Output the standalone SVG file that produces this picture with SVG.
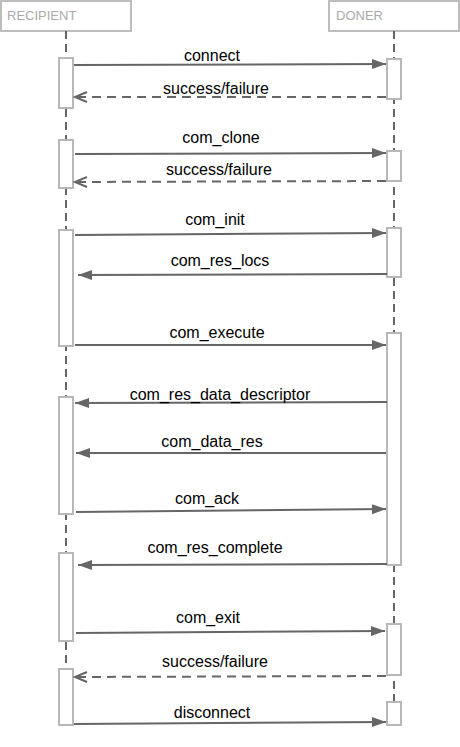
<svg xmlns="http://www.w3.org/2000/svg" width="460" height="747" viewBox="0 0 460 747">
<style>
.hdr{fill:#fff;stroke:#bdbdbd;stroke-width:2}
.htxt{font-family:"Liberation Sans",Arial,sans-serif;font-size:13px;fill:#aaaaaa}
.life{stroke:#666;stroke-width:2;stroke-dasharray:8,5;fill:none}
.act{fill:#fff;stroke:#b8b8b8;stroke-width:2}
.msg{stroke:#666;stroke-width:2;fill:none;marker-end:url(#filled)}
.ret{stroke:#666;stroke-width:2;fill:none;stroke-dasharray:9,6;marker-end:url(#open)}
.lbl{font-family:"Liberation Sans",Arial,sans-serif;font-size:16px;fill:#000;text-anchor:middle}
</style>
<defs>
<marker id="filled" markerUnits="userSpaceOnUse" markerWidth="15" markerHeight="11" refX="14" refY="5" orient="auto" overflow="visible">
<path d="M0,0 L14,5 L0,10 z" fill="#666" stroke="none"/>
</marker>
<marker id="open" markerUnits="userSpaceOnUse" markerWidth="14" markerHeight="12" refX="12" refY="5" orient="auto" overflow="visible">
<path d="M0,0 L12,5 L0,10" fill="none" stroke="#666" stroke-width="2" stroke-dasharray="none"/>
</marker>
</defs>

<g id="recipient">
<rect class="hdr" x="1" y="1" width="130" height="30"/>
<text class="htxt" x="7" y="20">RECIPIENT</text>
<line class="life" x1="66" y1="31" x2="66" y2="725"/>
<rect class="act" x="59" y="58" width="14" height="50"/>
<rect class="act" x="59" y="140" width="14" height="48"/>
<rect class="act" x="59" y="230" width="14" height="116"/>
<rect class="act" x="59" y="397" width="14" height="117"/>
<rect class="act" x="59" y="553" width="14" height="88"/>
<rect class="act" x="59" y="669" width="14" height="56"/>
</g>

<g id="doner">
<rect class="hdr" x="329" y="1" width="130" height="30"/>
<text class="htxt" x="336" y="20">DONER</text>
<line class="life" x1="394" y1="31" x2="394" y2="725"/>
<rect class="act" x="387" y="59" width="14" height="40"/>
<rect class="act" x="387" y="151" width="14" height="30"/>
<rect class="act" x="387" y="228" width="14" height="49"/>
<rect class="act" x="387" y="333" width="14" height="232"/>
<rect class="act" x="387" y="624" width="14" height="51"/>
<rect class="act" x="387" y="702" width="14" height="23"/>
</g>

<g id="connectors">
<line class="msg" x1="74" y1="65" x2="386" y2="64"/>
<line class="ret" x1="386" y1="97" x2="75" y2="97"/>
<line class="msg" x1="75" y1="154" x2="386" y2="153"/>
<line class="ret" x1="386" y1="181" x2="75" y2="182"/>
<line class="msg" x1="75" y1="235" x2="386" y2="233"/>
<line class="msg" x1="387" y1="274" x2="78" y2="275"/>
<line class="msg" x1="75" y1="345" x2="386" y2="345"/>
<line class="msg" x1="387" y1="402" x2="75" y2="403"/>
<line class="msg" x1="386" y1="453" x2="76" y2="453"/>
<line class="msg" x1="76" y1="512" x2="386" y2="509"/>
<line class="msg" x1="387" y1="564" x2="78" y2="565"/>
<line class="msg" x1="76" y1="633" x2="385" y2="631"/>
<line class="ret" x1="386" y1="676" x2="75" y2="677"/>
<line class="msg" x1="74" y1="724" x2="386" y2="722"/>
</g>

<g id="labels">
<text class="lbl" x="212" y="61">connect</text>
<text class="lbl" x="216" y="94">success/failure</text>
<text class="lbl" x="221" y="143">com_clone</text>
<text class="lbl" x="219" y="175">success/failure</text>
<text class="lbl" x="215" y="225">com_init</text>
<text class="lbl" x="220" y="266">com_res_locs</text>
<text class="lbl" x="217" y="338">com_execute</text>
<text class="lbl" x="220" y="400">com_res_data_descriptor</text>
<text class="lbl" x="212" y="447">com_data_res</text>
<text class="lbl" x="207" y="504">com_ack</text>
<text class="lbl" x="215" y="553">com_res_complete</text>
<text class="lbl" x="208" y="623">com_exit</text>
<text class="lbl" x="215" y="667">success/failure</text>
<text class="lbl" x="212" y="718">disconnect</text>
</g>
</svg>
